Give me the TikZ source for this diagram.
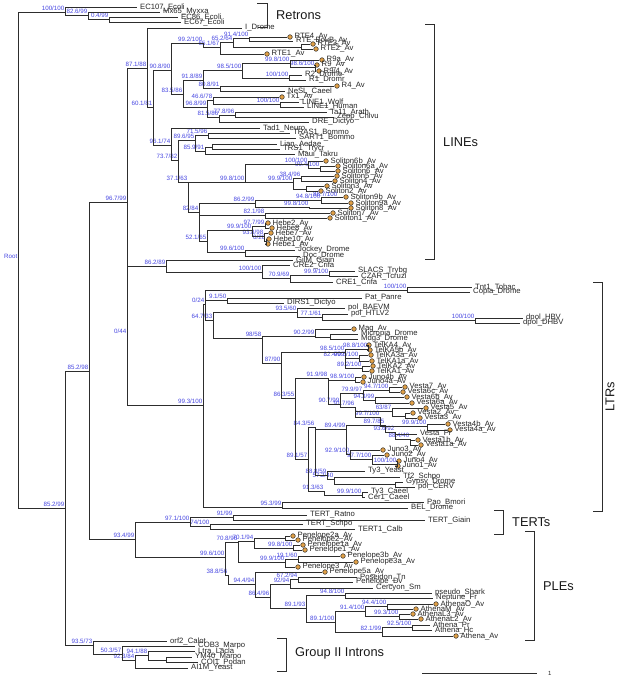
\documentclass[tikz,border=0pt]{standalone}
\usepackage{fontspec}
\setmainfont{Liberation Sans}
\definecolor{supblue}{RGB}{70,70,225}
\definecolor{dotor}{RGB}{225,160,70}
\definecolor{brc}{RGB}{45,45,45}
\tikzset{
  br/.style={draw=brc, line width=0.9pt},
  lab/.style={font=\fontsize{7.7}{8}\selectfont, text=black!85, anchor=west, inner sep=0pt},
  sup/.style={font=\fontsize{6.2}{6.4}\selectfont, text=supblue, anchor=south east, inner xsep=0.5pt, inner ysep=0.8pt},
  tipdot/.style={circle, draw=brc, fill=dotor, line width=0.5pt, minimum size=4.6pt, inner sep=0pt},
  grp/.style={font=\fontsize{12.8}{14}\selectfont, text=black!90, anchor=west, inner sep=0pt},
  brk/.style={draw=brc, line width=0.9pt},
}
\newcommand\LF[4]{\coordinate (#1) at (#2,#3);\node[lab] (t#1) at ([xshift=3pt]#2,#3) {#4};}
\newcommand\LD[4]{\node[tipdot] (#1) at (#2,#3) {};\node[lab] (t#1) at ([xshift=4.5pt]#2,#3) {#4};}
\newcommand\ND[4]{\coordinate (#1) at (#2,#3);\node[sup] (s#1) at (#2,#3) {#4};}
\newcommand\NN[3]{\coordinate (#1) at (#2,#3);}
\newcommand\ED[2]{\foreach \kid in {#2}{\draw[br] (#1) |- (\kid);}}
\begin{document}
\begin{tikzpicture}[x=1pt,y=-1pt]
\useasboundingbox (0,0) rectangle (617,676);
% ---------------- backbone and retrons
\ND{root}{18}{260}{Root}
\ND{ret}{65}{12}{100/100}
\ND{n826}{88}{15}{82.6/99}
\ND{n04}{109}{19}{0.4/99}
\LF{ec107}{137}{7}{EC107\_Ecoli}
\LF{mx65}{160}{12}{Mx65\_Myxxa}
\LF{ec86}{178}{17}{EC86\_Ecoli}
\LF{ec67}{181}{22}{EC67\_Ecoli}
\ND{b1}{65}{508}{85.2/99}
\ND{b2}{89}{371}{85.2/98}
\ND{c}{127}{202}{96.7/99}
\ND{e}{127}{335}{0/44}
% ---------------- LINEs
\ND{d}{147}{68}{87.1/88}
\LF{idrome}{242}{28}{I\_Drome}
\ND{e1}{153}{107}{60.1/81}
\ND{e2}{171}{70}{90.8/90}
\ND{e3}{171}{145}{96.1/74}
\ND{r}{203}{43}{99.2/100}
\ND{r2}{220}{47}{65.1/67}
\ND{r3}{233}{42}{65.2/64}
\ND{r4}{249}{38}{91.4/100}
\NN{r5}{301}{47}
\LD{rte4}{290}{37}{RTE4\_Av}
\LF{bovb}{293}{41}{RTE\_BovB\_Av}
\LD{rte3}{313}{44}{RTE3\_Av}
\LD{rte2}{316}{49}{RTE2\_Av}
\LD{rte1}{267}{54}{RTE1\_Av}
\ND{n835}{183}{94}{83.5/86}
\ND{n918}{203}{80}{91.8/89}
\ND{n968}{207}{107}{96.8/99}
\ND{n985}{242}{70}{98.5/100}
\ND{n808}{220}{88}{80.8/91}
\ND{n998}{290}{63}{99.8/100}
\ND{n986}{315}{67}{98.6/100}
\ND{n100a}{289}{78}{100/100}
\LD{r9a}{322}{60}{R9a\_Av}
\LD{r9}{317}{65}{R9\_Av}
\LD{r94}{319}{71}{R9/4\_Av}
\LF{r2d}{302}{75}{R2\_Drome}
\LF{r1d}{306}{80}{R1\_Dromr}
\LD{rfourav}{337}{86}{R4\_Av}
\LF{nesl}{285}{91}{NeSL\_Caeel}
\ND{n466}{213}{100}{46.6/78}
\ND{n815}{219}{117}{81.5/86}
\LD{tx1}{282}{97}{Tx1\_Av}
\ND{n100b}{280}{104}{100/100}
\LF{l1w}{299}{102}{LINE1\_Wolf}
\LF{l1h}{304}{107}{LINE1\_Human}
\ND{n778}{235}{115}{77.8/96}
\LF{dre}{309}{122}{DRE\_Dictyo}
\LF{ta11}{327}{112}{Ta11\_Arath}
\LF{zepp}{334}{117}{Zepp\_Chlvu}
\LF{tad1}{260}{128}{Tad1\_Neuro}
\ND{n737}{178}{160}{73.7/82}
\ND{n896}{195}{140}{89.6/95}
\ND{n371}{188}{182}{37.1/63}
\ND{n715}{208}{135}{71.5/96}
\ND{n859}{205}{151}{85.9/91}
\LF{tras1}{290}{133}{TRAS1\_Bommo}
\LF{sart1}{296}{138}{SART1\_Bommo}
\NN{nlt}{212}{147}
\LF{maui}{295}{154}{Maui\_Takru}
\LF{lian}{277}{144}{Lian\_Aedae}
\LF{trs1}{280}{149}{TRS1\_Trycr}
\ND{stop}{245}{182}{99.8/100}
\ND{n82}{199}{212}{82/84}
\ND{s6}{308}{164}{100/100}
\ND{s999}{293}{182}{99.9/100}
\ND{s994}{320}{168}{99.4/100}
\LD{sol6b}{326}{161}{Soliton6b\_Av}
\LD{sol6a}{338}{166}{Soliton6a\_Av}
\LD{sol6}{338}{171}{Soliton6\_Av}
\ND{s384}{301}{178}{38.4/96}
\NN{s32}{306}{189}
\LD{sol5}{337}{176}{Soliton5\_Av}
\LD{sol4}{335}{181}{Soliton4\_Av}
\LD{sol3}{327}{186}{Soliton3\_Av}
\LD{sol2}{321}{191}{Soliton2\_Av}
\ND{n862}{255}{203}{86.2/99}
\ND{n821}{265}{215}{82.1/98}
\ND{n521}{207}{241}{52.1/65}
\ND{s948}{321}{200}{94.8/100}
\ND{s98}{309}{207}{99.8/100}
\node[sup] (s867) at (338,198) {86.7/100};
\LD{sol9b}{346}{197}{Soliton9b\_Av}
\LD{sol9a}{351}{203}{Soliton9a\_Av}
\LD{sol8}{351}{208}{Soliton8\_Av}
\LD{sol7}{333}{213}{Soliton7\_Av}
\LD{sol1}{330}{218}{Soliton1\_Av}
\ND{h1}{252}{230}{99.9/100}
\ND{n996}{245}{252}{99.6/100}
\ND{h2}{265}{226}{97.7/99}
\ND{h3}{264}{236}{93.8/98}
\ND{h4}{266}{241}{0/28}
\LD{hebe2}{268}{223}{Hebe2\_Av}
\LD{hebe8}{272}{228}{Hebe8\_Av}
\LD{hebe7}{271}{233}{Hebe7\_Av}
\LD{hebe10}{269}{239}{Hebe10\_Av}
\LD{hebe1}{268}{244}{Hebe1\_Av}
\LF{jockey}{295}{250}{Jockey\_Drome}
\LF{doc}{300}{256}{Doc\_Drome}
% ---------------- F clade
\ND{f}{166}{266}{86.2/89}
\LF{giim}{293}{260}{GilM\_Giain}
\ND{g}{262}{272}{100/100}
\LF{cre2}{290}{265}{CRE2\_Crifa}
\ND{h}{290}{278}{70.9/69}
\ND{i}{329}{275}{99.9/100}
\LF{cre1}{333}{282}{CRE1\_Crifa}
\LF{slacs}{355}{271}{SLACS\_Trybg}
\LF{czar}{358}{276}{CZAR\_Tcruzi}
% ---------------- LTRs
\ND{l}{203}{405}{99.3/100}
\ND{m}{205}{304}{0/24}
\ND{n953}{282}{507}{95.3/99}
\ND{t1}{407}{290}{100/100}
\ND{n91}{227}{300}{9.1/50}
\ND{n64}{213}{320}{64.7/33}
\LF{tnt1}{472}{287}{Tnt1\_Tobac}
\LF{copia}{470}{292}{Copia\_Drome}
\LF{pat}{362}{298}{Pat\_Panre}
\LF{dirs1}{284}{303}{DIRS1\_Dictyo}
\ND{n935}{297}{312}{93.5/60}
\ND{n98}{262}{338}{98/58}
\LF{polbaevm}{345}{308}{pol\_BAEVM}
\ND{n771}{322}{317}{77.1/61}
\LF{polhtlv}{348}{314}{pol\_HTLV2}
\ND{d1}{475}{320}{100/100}
\LF{dpolhbv}{523}{318}{dpol\_HBV}
\LF{dpoldhbv}{520}{323}{dpol\_DHBV}
\ND{n902}{315}{336}{90.2/99}
\ND{n87}{281}{363}{87/90}
\LD{mag}{354}{329}{Mag\_Av}
\NN{nmm}{330}{337}
\LF{micropia}{358}{334}{Micropia\_Drome}
\LF{mdg3}{358}{339}{Mdg3\_Drome}
\ND{n985t}{345}{352}{98.5/100}
\ND{n86}{295}{398}{86.3/55}
\ND{tk1}{368}{349}{98.8/100}
\ND{tk2}{345}{358}{82.4/99}
\LD{telka4}{369}{345}{TelKA4\_Av}
\LD{telka5b}{370}{350}{TelKA5b\_Av}
\ND{tk3}{359}{358}{90.5/100}
\ND{tk4}{362}{368}{89.2/100}
\LD{telka3a}{371}{355}{TelKA3a\_Av}
\LD{telka1a}{372}{361}{TelKA1a\_Av}
\LD{telka2}{373}{366}{TelKA2\_Av}
\LD{telka1}{372}{371}{TelKA1\_Av}
\ND{n919}{328}{378}{91.9/98}
\ND{n891}{308}{459}{89.1/57}
\ND{n989}{355}{380}{98.9/100}
\ND{n90}{340}{404}{90.7/99}
\LD{juno4b}{364}{377}{Juno4b\_Av}
\LD{juno4a}{363}{382}{Juno4a\_Av}
\ND{n799}{363}{393}{79.9/97}
\ND{n917}{355}{407}{91.7/96}
\ND{v7}{389}{390}{94.7/100}
\ND{v943}{375}{400}{94.3/99}
\LD{vesta7}{405}{387}{Vesta7\_Av}
\LD{vesta6c}{403}{392}{Vesta6c\_Av}
\LD{vesta6b}{407}{397}{Vesta6b\_Av}
\LD{vesta6a}{412}{403}{Vesta6a\_Av}
\ND{v63}{392}{411}{63/87}
\ND{n997}{380}{417}{99.7/100}
\LD{vesta5}{426}{408}{Vesta5\_Av}
\NN{v23}{405}{416}
\LD{vesta2}{413}{413}{Vesta2\_Av}
\LD{vesta3}{420}{418}{Vesta3\_Av}
\ND{v4}{427}{426}{99.9/100}
\LD{vesta4b}{448}{424}{Vesta4b\_Av}
\LD{vesta4a}{450}{430}{Vesta4a\_Av}
\ND{n843}{315}{427}{84.3/56}
\ND{n894}{346}{429}{89.4/99}
\ND{v897}{385}{425}{89.7/85}
\ND{v936}{395}{432}{93.6/92}
\LF{vestapr}{417}{434}{Vesta\_Pr}
\ND{v1}{410}{439}{88.4/40}
\LD{vesta1b}{418}{440}{Vesta1b\_Av}
\LD{vesta1a}{421}{445}{Vesta1a\_Av}
\ND{j929}{350}{454}{92.9/100}
\ND{j3}{372}{459}{97.7/100}
\ND{j100}{397}{464}{100/100}
\LD{juno3}{383}{450}{Juno3\_Av}
\LD{juno2}{387}{455}{Juno2\_Av}
\LD{juno4}{399}{461}{Juno4\_Av}
\LD{juno1}{398}{466}{Juno1\_Av}
\ND{n888}{327}{475}{88.8/59}
\LF{ty3y}{365}{471}{Ty3\_Yeast}
\ND{n52}{334}{479}{57.2/40}
\LF{tf2}{400}{477}{Tf2\_Schpo}
\NN{ngp}{395}{484}
\LF{gypsy}{403}{482}{Gypsy\_Drome}
\LF{polcerv}{415}{487}{pol\_CERV}
\ND{n913}{324}{491}{91.3/63}
\ND{n999c}{362}{495}{99.9/100}
\LF{ty3c}{368}{492}{Ty3\_Caeel}
\LF{cer1}{365}{497}{Cer1\_Caeel}
\LF{pao}{424}{502}{Pao\_Bmori}
\LF{bel}{408}{508}{BEL\_Drome}
% ---------------- TERTs
\ND{t}{135}{539}{93.4/99}
\ND{t97}{190}{522}{97.1/100}
\ND{t91}{233}{517}{91/99}
\ND{t74}{210}{526}{74/100}
\LF{tratno}{307}{515}{TERT\_Ratno}
\LF{tgiain}{425}{520}{TERT\_Giain}
\LF{tschpo}{303}{524}{TERT\_Schpo}
\LF{tcalb}{355}{529}{TERT1\_Calb}
% ---------------- PLEs
\ND{p1}{225}{557}{99.6/100}
\ND{p2}{238}{542}{70.8/96}
\ND{p388}{228}{575}{38.8/56}
\ND{p701}{254}{541}{70.1/94}
\ND{p999}{285}{562}{99.9/100}
\NN{p22}{285}{538}
\ND{p998}{293}{548}{99.8/100}
\ND{p191}{298}{559}{19.1/60}
\LD{pen2a}{293}{536}{Penelope2a\_Av}
\LD{pen2}{298}{540}{Penelope2\_Av}
\LD{pen1a}{303}{545}{Penelope1a\_Av}
\LD{pen1}{305}{550}{Penelope1\_Av}
\LD{pen3b}{343}{556}{Penelope3b\_Av}
\LD{pen3a}{356}{562}{Penelope3a\_Av}
\LD{pen3}{298}{567}{Penelope3\_Av}
\ND{p944}{255}{584}{94.4/94}
\LD{pen5a}{325}{572}{Penelope5a\_Av}
\ND{p864}{270}{597}{86.4/96}
\ND{p92}{290}{584}{92/94}
\ND{p672}{298}{579}{67.2/94}
\LF{poseidon}{357}{577}{Poseidon\_Tn}
\LF{pendv}{353}{582}{Penelope\_Dv}
\LF{cercyon}{373}{588}{Cercyon\_Sm}
\ND{p891}{306}{608}{89.1/93}
\ND{p948}{345}{595}{94.8/100}
\LF{pseudo}{432}{593}{pseudo\_Shark}
\LF{neptune}{433}{598}{Neptune\_Fr}
\ND{p8911}{335}{622}{89.1/100}
\ND{p914}{365}{611}{91.4/100}
\ND{p821}{382}{632}{82.1/99}
\ND{p9441}{387}{606}{94.4/100}
\ND{p993}{399}{616}{99.3/100}
\ND{p925}{412}{627}{92.5/100}
\LD{atho}{436}{604}{AthenaO\_Av}
\LD{athm}{416}{609}{AthenaM\_Av}
\LD{athl3}{413}{614}{AthenaL3\_Av}
\LD{athl2}{421}{619}{AthenaL2\_Av}
\LF{athpr}{430}{625}{Athena\_Pr}
\LF{athhc}{432}{630}{Athena\_Hc}
\LD{athav}{456}{636}{Athena\_Av}
% ---------------- Group II introns
\ND{gii}{93}{645}{93.5/73}
\ND{g503}{122}{654}{50.3/57}
\ND{g923}{135}{660}{92.3/84}
\ND{g91}{148}{655}{94.1/88}
\NN{gym}{166}{660}
\LF{orf2}{167}{641}{orf2\_Calot}
\LF{cob3}{195}{646}{COB3\_Marpo}
\LF{ltra}{195}{651}{Ltra\_Lacla}
\LF{ym40}{192}{657}{YM40\_Marpo}
\LF{coi1}{198}{662}{COI1\_Podan}
\LF{ai1m}{188}{668}{AI1M\_Yeast}
% ---------------- edges
\ED{root}{ret,b1}
\ED{ret}{ec107,n826}
\ED{n826}{mx65,n04}
\ED{n04}{ec86,ec67}
\ED{b1}{b2,gii}
\ED{b2}{c,t}
\ED{c}{d,e}
\ED{e}{f,l}
\ED{d}{idrome,e1}
\ED{e1}{e2,e3}
\ED{e2}{r,n835}
\ED{r}{r2}
\ED{r2}{r3,rte1}
\ED{r3}{r4,r5}
\ED{r4}{rte4,bovb}
\ED{r5}{rte3,rte2}
\ED{n835}{n918,n968}
\ED{n918}{n985,n808}
\ED{n985}{n998,n100a}
\ED{n998}{r9a,n986}
\ED{n986}{r9,r94}
\ED{n100a}{r2d,r1d}
\ED{n808}{rfourav,nesl}
\ED{n968}{n466,n815}
\ED{n466}{tx1,n100b}
\ED{n100b}{l1w,l1h}
\ED{n815}{n778,dre}
\ED{n778}{ta11,zepp}
\ED{e3}{tad1,n737}
\ED{n737}{n896,n371}
\ED{n896}{n715,n859}
\ED{n715}{tras1,sart1}
\ED{n859}{nlt,maui}
\ED{nlt}{lian,trs1}
\ED{n371}{stop,n82}
\ED{stop}{s6,s999}
\ED{s6}{sol6b,s994}
\ED{s994}{sol6a,sol6}
\ED{s999}{s384,s32}
\ED{s384}{sol5,sol4}
\ED{s32}{sol3,sol2}
\ED{n82}{n862,n821,n521}
\ED{n862}{s948,s98}
\ED{s948}{sol9b,sol9a}
\ED{s98}{sol8}
\ED{n821}{sol7,sol1}
\ED{n521}{h1,n996}
\ED{h1}{h2,h3}
\ED{h2}{hebe2,hebe8}
\ED{h3}{hebe7,h4}
\ED{h4}{hebe10,hebe1}
\ED{n996}{jockey,doc}
\ED{f}{giim,g}
\ED{g}{cre2,h}
\ED{h}{i,cre1}
\ED{i}{slacs,czar}
\ED{l}{m,n953}
\ED{m}{t1,n91,n64}
\ED{t1}{tnt1,copia}
\ED{n91}{pat,dirs1}
\ED{n64}{n935,n98}
\ED{n935}{polbaevm,n771}
\ED{n771}{polhtlv,d1}
\ED{d1}{dpolhbv,dpoldhbv}
\ED{n98}{n902,n87}
\ED{n902}{mag,nmm}
\ED{nmm}{micropia,mdg3}
\ED{n87}{n985t,n86}
\ED{n985t}{tk1,tk2}
\ED{tk1}{telka4,telka5b}
\ED{tk2}{tk3,tk4}
\ED{tk3}{telka3a,telka1a}
\ED{tk4}{telka2,telka1}
\ED{n86}{n919,n891}
\ED{n919}{n989,n90}
\ED{n989}{juno4b,juno4a}
\ED{n90}{n799,n917}
\ED{n799}{v7,v943}
\ED{v7}{vesta7,vesta6c}
\ED{v943}{vesta6b,vesta6a}
\ED{n917}{v63,n997}
\ED{v63}{vesta5,v23}
\ED{v23}{vesta2,vesta3}
\ED{n997}{v4}
\ED{v4}{vesta4b,vesta4a}
\ED{n891}{n843,n913}
\ED{n843}{n894,n888}
\ED{n894}{v897,j929}
\ED{v897}{v936}
\ED{v936}{vestapr,v1}
\ED{v1}{vesta1b,vesta1a}
\ED{j929}{juno3,j3}
\ED{j3}{juno2,j100}
\ED{j100}{juno4,juno1}
\ED{n888}{ty3y,n52}
\ED{n52}{tf2,ngp}
\ED{ngp}{gypsy,polcerv}
\ED{n913}{n999c}
\ED{n999c}{ty3c,cer1}
\ED{n953}{pao,bel}
\ED{t}{t97,p1}
\ED{t97}{t91,t74}
\ED{t91}{tratno,tgiain}
\ED{t74}{tschpo,tcalb}
\ED{p1}{p2,p388}
\ED{p2}{p701,p999}
\ED{p701}{p22,p998}
\ED{p22}{pen2a,pen2}
\ED{p998}{pen1a,pen1}
\ED{p999}{p191,pen3}
\ED{p191}{pen3b,pen3a}
\ED{p388}{p944}
\ED{p944}{pen5a,p864}
\ED{p864}{p92,p891}
\ED{p92}{p672,cercyon}
\ED{p672}{poseidon,pendv}
\ED{p891}{p948,p8911}
\ED{p948}{pseudo,neptune}
\ED{p8911}{p914,p821}
\ED{p914}{p9441,p993}
\ED{p9441}{atho,athm}
\ED{p993}{athl3,athl2}
\ED{p821}{p925,athav}
\ED{p925}{athpr,athhc}
\ED{gii}{orf2,g503}
\ED{g503}{cob3,g923}
\ED{g923}{g91,ai1m}
\ED{g91}{ltra,gym}
\ED{gym}{ym40,coi1}
% ---------------- group brackets
\draw[brk] (257,3) -- (267,3) -- (267,27) -- (258,27);
\node[grp] (gret) at (276,15) {Retrons};
\draw[brk] (425,24) -- (434,24) -- (434,259) -- (425,259);
\node[grp] (gline) at (443,142) {LINEs};
\draw[brk] (593,282) -- (602,282) -- (602,511) -- (593,511);
\node[grp, anchor=center, rotate=90] (gltr) at (610,397) {LTRs};
\draw[brk] (494,510) -- (503,510) -- (503,534) -- (494,534);
\node[grp] (gtert) at (512,522) {TERTs};
\draw[brk] (525,531) -- (534,531) -- (534,640) -- (525,640);
\node[grp] (gple) at (543,586) {PLEs};
\draw[brk] (277,638) -- (286,638) -- (286,671) -- (277,671);
\node[grp] (gii2) at (295,653) {Group II Introns};
% ---------------- scale bar
\coordinate (sba) at (422,673);
\coordinate (sbb) at (537,673);
\draw[br] (sba) -- (sbb);
\node[lab, font=\fontsize{6}{6}\selectfont] (sbl) at (548,673) {1};
\end{tikzpicture}
\end{document}
